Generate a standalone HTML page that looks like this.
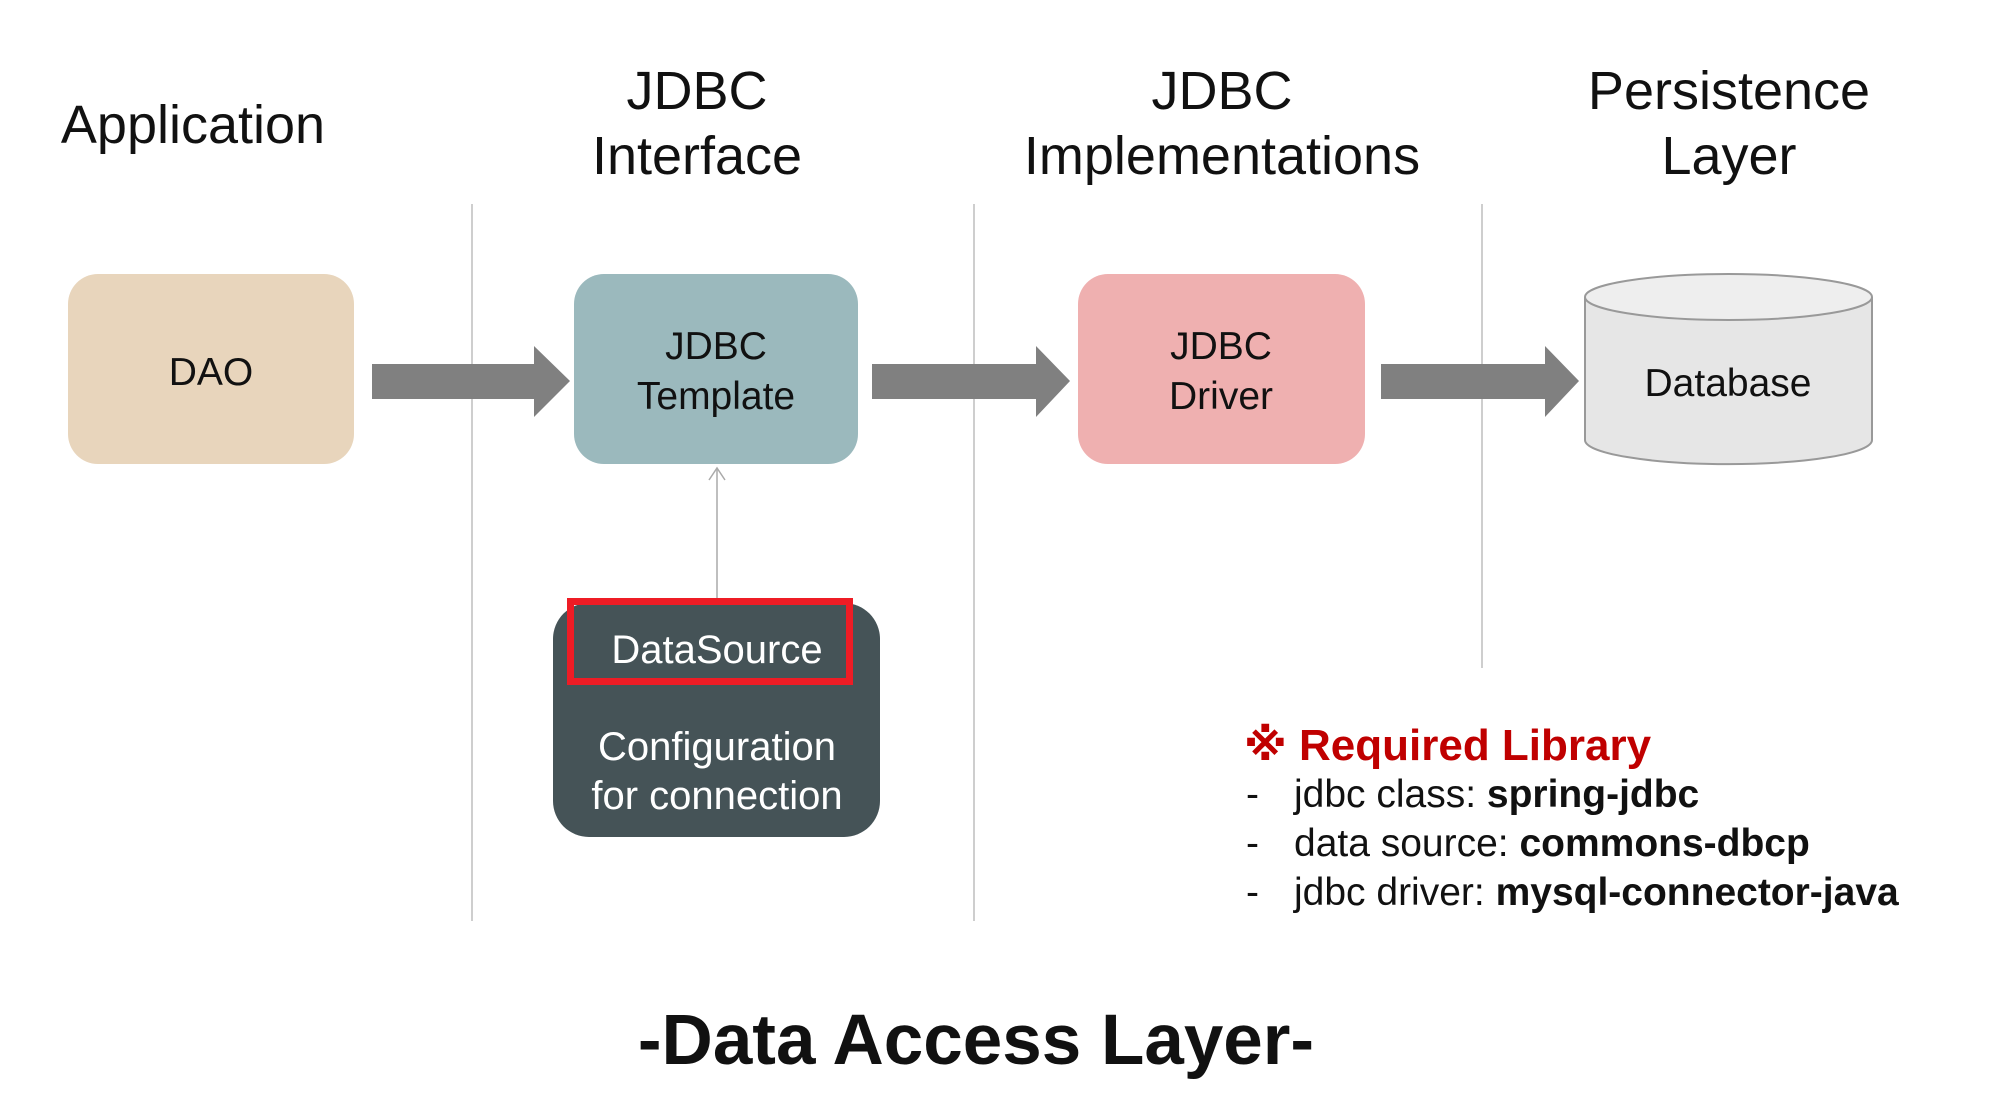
<!DOCTYPE html>
<html><head><meta charset="utf-8"><style>
html,body{margin:0;padding:0;background:#fff;}
svg{display:block;}
</style></head><body>
<svg width="2000" height="1109" viewBox="0 0 2000 1109" xmlns="http://www.w3.org/2000/svg">
<g stroke="#bdbdbd" stroke-width="1.5">
<line x1="472" y1="204" x2="472" y2="921"/>
<line x1="974" y1="204" x2="974" y2="921"/>
<line x1="1482" y1="204" x2="1482" y2="668"/>
</g>
<g font-family="Liberation Sans, sans-serif" font-size="54" fill="#111" text-anchor="middle">
<text x="193" y="143">Application</text>
<text x="697" y="109">JDBC</text>
<text x="697" y="174">Interface</text>
<text x="1222" y="109">JDBC</text>
<text x="1222" y="174">Implementations</text>
<text x="1729" y="109">Persistence</text>
<text x="1729" y="174">Layer</text>
</g>
<rect x="68" y="274" width="286" height="190" rx="30" fill="#e8d5bc"/>
<rect x="574" y="274" width="284" height="190" rx="30" fill="#9bb9bd"/>
<rect x="1078" y="274" width="287" height="190" rx="30" fill="#efb0b0"/>
<g fill="#808080">
<polygon points="372,364 534,364 534,346 570,381 534,417 534,399 372,399"/>
<polygon points="872,364 1036,364 1036,346 1070,381 1036,417 1036,399 872,399"/>
<polygon points="1381,364 1545,364 1545,346 1579,381 1545,417 1545,399 1381,399"/>
</g>
<path d="M1585,297 L1585,440 A143,24 0 0 0 1872,440 L1872,297" fill="#e6e6e6" stroke="#999" stroke-width="2"/>
<ellipse cx="1728.5" cy="297" rx="143.5" ry="23" fill="#eeeeee" stroke="#999" stroke-width="2"/>
<line x1="717" y1="598" x2="717" y2="468" stroke="#aaa" stroke-width="1.5"/>
<polyline points="709,480 717,468 725,480" fill="none" stroke="#aaa" stroke-width="1.5"/>
<rect x="553" y="603" width="327" height="234" rx="36" fill="#455357"/>
<rect x="570.5" y="601.5" width="279" height="80" fill="none" stroke="#ee1c25" stroke-width="7"/>
<g font-family="Liberation Sans, sans-serif" font-size="39" text-anchor="middle" fill="#111">
<text x="211" y="385">DAO</text>
<text x="716" y="359">JDBC</text>
<text x="716" y="409">Template</text>
<text x="1221" y="359">JDBC</text>
<text x="1221" y="409">Driver</text>
<text x="1728" y="396">Database</text>
</g>
<g font-family="Liberation Sans, sans-serif" font-size="40" text-anchor="middle" fill="#fff">
<text x="717" y="663">DataSource</text>
<text x="717" y="760">Configuration</text>
<text x="717" y="809">for connection</text>
</g>
<text x="1244" y="760" font-family="Liberation Sans, DejaVu Sans, sans-serif" font-size="44" font-weight="bold" fill="#c00000">※ Required Library</text>
<g font-family="Liberation Sans, sans-serif" font-size="39" fill="#111">
<text x="1246" y="807">-</text><text x="1294" y="807">jdbc class: <tspan font-weight="bold">spring-jdbc</tspan></text>
<text x="1246" y="856">-</text><text x="1294" y="856">data source: <tspan font-weight="bold">commons-dbcp</tspan></text>
<text x="1246" y="905">-</text><text x="1294" y="905">jdbc driver: <tspan font-weight="bold">mysql-connector-java</tspan></text>
</g>
<text x="976" y="1064" font-family="Liberation Sans, sans-serif" font-size="71" font-weight="bold" text-anchor="middle" fill="#111">-Data Access Layer-</text>
</svg>
</body></html>
